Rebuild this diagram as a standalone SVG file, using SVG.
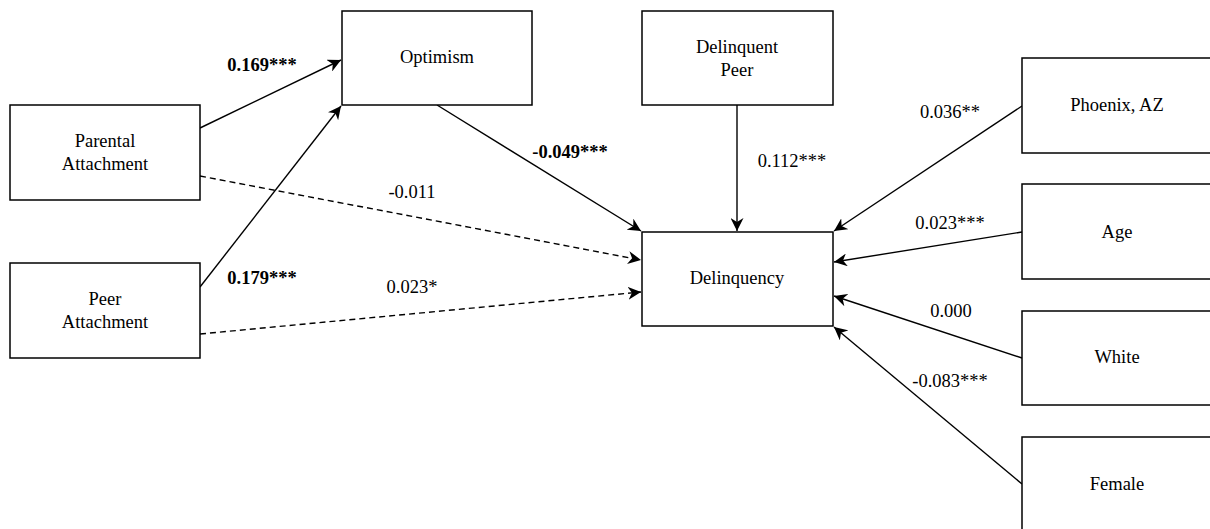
<svg xmlns="http://www.w3.org/2000/svg" width="1210" height="529" viewBox="0 0 1210 529">
<style>
.box{fill:#fff;stroke:#000;stroke-width:1.5}
.t{font-family:"Liberation Serif","Times New Roman",serif;font-size:18.5px;fill:#000;text-anchor:middle}
.b{font-weight:bold}
.e{fill:none;stroke:#000;stroke-width:1.4}
.d{stroke-dasharray:6,4}
</style>
<defs>
<marker id="ah" viewBox="0 0 10 10" refX="10" refY="5" markerWidth="13" markerHeight="13" markerUnits="userSpaceOnUse" orient="auto">
<path d="M0,0 L10,5 L0,10 L3,5 z" fill="#000"/>
</marker>
</defs>
<rect width="1210" height="529" fill="#fff"/>
<g id="edges">
<line class="e" x1="200" y1="128" x2="341" y2="60" marker-end="url(#ah)"/>
<line class="e" x1="200" y1="287" x2="341" y2="106" marker-end="url(#ah)"/>
<line class="e d" x1="200" y1="176" x2="641" y2="260" marker-end="url(#ah)"/>
<line class="e d" x1="200" y1="334" x2="641" y2="292" marker-end="url(#ah)"/>
<line class="e" x1="437" y1="105" x2="641" y2="231" marker-end="url(#ah)"/>
<line class="e" x1="737" y1="105" x2="737" y2="231" marker-end="url(#ah)"/>
<line class="e" x1="1022" y1="106" x2="834" y2="231" marker-end="url(#ah)"/>
<line class="e" x1="1022" y1="232" x2="834" y2="262" marker-end="url(#ah)"/>
<line class="e" x1="1022" y1="358" x2="834" y2="296" marker-end="url(#ah)"/>
<line class="e" x1="1022" y1="484" x2="834" y2="327" marker-end="url(#ah)"/>
<text class="t b" x="262" y="71">0.169***</text>
<text class="t b" x="262" y="284">0.179***</text>
<text class="t" x="412" y="198">-0.011</text>
<text class="t" x="412" y="293">0.023*</text>
<text class="t b" x="570" y="158">-0.049***</text>
<text class="t" x="792" y="167">0.112***</text>
<text class="t" x="950" y="118">0.036**</text>
<text class="t" x="950" y="229">0.023***</text>
<text class="t" x="951" y="317">0.000</text>
<text class="t" x="950" y="387">-0.083***</text>
</g>
<g id="parental"><rect class="box" x="10" y="105" width="190" height="95"/><text class="t" x="105" y="147">Parental</text><text class="t" x="105" y="170">Attachment</text></g>
<g id="peer"><rect class="box" x="10" y="263" width="190" height="95"/><text class="t" x="105" y="305">Peer</text><text class="t" x="105" y="328">Attachment</text></g>
<g id="optimism"><rect class="box" x="342" y="11" width="190" height="94"/><text class="t" x="437" y="63">Optimism</text></g>
<g id="delpeer"><rect class="box" x="642" y="11" width="191" height="94"/><text class="t" x="737" y="53">Delinquent</text><text class="t" x="737" y="76">Peer</text></g>
<g id="delinquency"><rect class="box" x="642" y="232" width="191" height="94"/><text class="t" x="737" y="284">Delinquency</text></g>
<g id="phoenix"><rect class="box" x="1022" y="58" width="200" height="95"/><text class="t" x="1117" y="111">Phoenix, AZ</text></g>
<g id="age"><rect class="box" x="1022" y="184" width="200" height="95"/><text class="t" x="1117" y="238">Age</text></g>
<g id="white"><rect class="box" x="1022" y="311" width="200" height="94"/><text class="t" x="1117" y="363">White</text></g>
<g id="female"><rect class="box" x="1022" y="437" width="200" height="100"/><text class="t" x="1117" y="490">Female</text></g>
</svg>
